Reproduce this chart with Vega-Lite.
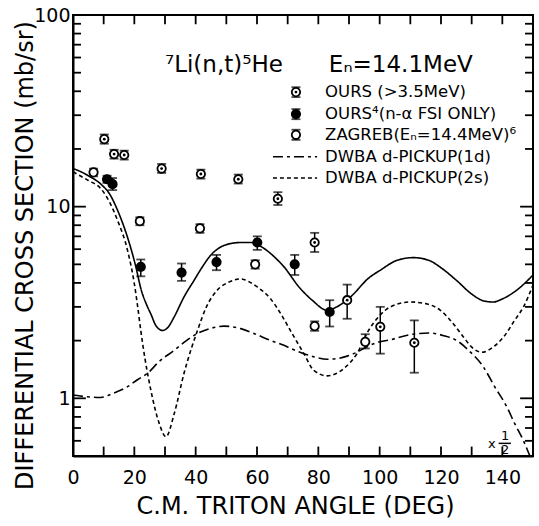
{
  "$schema": "https://vega.github.io/schema/vega-lite/v6.json",
  "width": 460,
  "height": 441,
  "autosize": {"type": "none"},
  "padding": {"left": 73, "top": 15, "right": 6, "bottom": 70},
  "background": "white",
  "config": {
    "font": "DejaVu Sans",
    "view": {"stroke": "black", "strokeWidth": 2},
    "text": {"color": "black"}
  },
  "datasets": {
    "curves": [
      {"curve": "total", "angle": 0, "xs": 15.8}, {"curve": "total", "angle": 2.6, "xs": 15.2}, {"curve": "total", "angle": 5, "xs": 14.5},
      {"curve": "total", "angle": 9.1, "xs": 13.1}, {"curve": "total", "angle": 12, "xs": 11.6}, {"curve": "total", "angle": 14.5, "xs": 9.6},
      {"curve": "total", "angle": 17.8, "xs": 6.9}, {"curve": "total", "angle": 20.5, "xs": 4.85}, {"curve": "total", "angle": 22.1, "xs": 3.75},
      {"curve": "total", "angle": 24.3, "xs": 3.0}, {"curve": "total", "angle": 25.4, "xs": 2.75}, {"curve": "total", "angle": 27, "xs": 2.4},
      {"curve": "total", "angle": 29.2, "xs": 2.26}, {"curve": "total", "angle": 31, "xs": 2.35}, {"curve": "total", "angle": 33, "xs": 2.66},
      {"curve": "total", "angle": 36.2, "xs": 3.38}, {"curve": "total", "angle": 39.5, "xs": 4.13}, {"curve": "total", "angle": 42, "xs": 4.8},
      {"curve": "total", "angle": 45, "xs": 5.6}, {"curve": "total", "angle": 48.2, "xs": 6.16}, {"curve": "total", "angle": 51, "xs": 6.4},
      {"curve": "total", "angle": 54.7, "xs": 6.5}, {"curve": "total", "angle": 58, "xs": 6.5}, {"curve": "total", "angle": 62.3, "xs": 6.05},
      {"curve": "total", "angle": 65.5, "xs": 5.5}, {"curve": "total", "angle": 68.8, "xs": 4.85}, {"curve": "total", "angle": 73.7, "xs": 3.81},
      {"curve": "total", "angle": 78, "xs": 3.25}, {"curve": "total", "angle": 82.9, "xs": 2.88}, {"curve": "total", "angle": 86, "xs": 3.0},
      {"curve": "total", "angle": 90.5, "xs": 3.38}, {"curve": "total", "angle": 96.5, "xs": 4.25}, {"curve": "total", "angle": 100.2, "xs": 4.66},
      {"curve": "total", "angle": 105.7, "xs": 5.25}, {"curve": "total", "angle": 111, "xs": 5.42}, {"curve": "total", "angle": 116, "xs": 5.25},
      {"curve": "total", "angle": 120, "xs": 4.8}, {"curve": "total", "angle": 125, "xs": 4.13}, {"curve": "total", "angle": 130, "xs": 3.5},
      {"curve": "total", "angle": 134, "xs": 3.22}, {"curve": "total", "angle": 137, "xs": 3.18}, {"curve": "total", "angle": 140, "xs": 3.3},
      {"curve": "total", "angle": 145, "xs": 3.7}, {"curve": "total", "angle": 150, "xs": 4.4},

      {"curve": "2s", "angle": 0, "xs": 15.2}, {"curve": "2s", "angle": 2.6, "xs": 14.4}, {"curve": "2s", "angle": 5, "xs": 13.7},
      {"curve": "2s", "angle": 9.1, "xs": 12.4}, {"curve": "2s", "angle": 12, "xs": 10.5}, {"curve": "2s", "angle": 14.5, "xs": 8.5},
      {"curve": "2s", "angle": 17.8, "xs": 5.9}, {"curve": "2s", "angle": 20, "xs": 3.96}, {"curve": "2s", "angle": 21.1, "xs": 3.0},
      {"curve": "2s", "angle": 22.1, "xs": 2.26}, {"curve": "2s", "angle": 23.5, "xs": 1.6}, {"curve": "2s", "angle": 25.4, "xs": 1.1},
      {"curve": "2s", "angle": 28.1, "xs": 0.74}, {"curve": "2s", "angle": 30.3, "xs": 0.63}, {"curve": "2s", "angle": 33, "xs": 0.83},
      {"curve": "2s", "angle": 36.2, "xs": 1.35}, {"curve": "2s", "angle": 38.5, "xs": 1.8}, {"curve": "2s", "angle": 40.6, "xs": 2.26},
      {"curve": "2s", "angle": 43.5, "xs": 3.0}, {"curve": "2s", "angle": 47, "xs": 3.66}, {"curve": "2s", "angle": 51, "xs": 4.05},
      {"curve": "2s", "angle": 54.7, "xs": 4.2}, {"curve": "2s", "angle": 57.5, "xs": 4.05}, {"curve": "2s", "angle": 60.1, "xs": 3.81},
      {"curve": "2s", "angle": 64.4, "xs": 3.31}, {"curve": "2s", "angle": 67.7, "xs": 2.77}, {"curve": "2s", "angle": 71.5, "xs": 2.17},
      {"curve": "2s", "angle": 75.3, "xs": 1.71}, {"curve": "2s", "angle": 78.5, "xs": 1.4}, {"curve": "2s", "angle": 82.9, "xs": 1.31},
      {"curve": "2s", "angle": 88.3, "xs": 1.43}, {"curve": "2s", "angle": 92.6, "xs": 1.71}, {"curve": "2s", "angle": 96.4, "xs": 2.26},
      {"curve": "2s", "angle": 100, "xs": 2.7}, {"curve": "2s", "angle": 103.5, "xs": 3.0}, {"curve": "2s", "angle": 110, "xs": 3.18},
      {"curve": "2s", "angle": 115, "xs": 3.12}, {"curve": "2s", "angle": 119.8, "xs": 2.88}, {"curve": "2s", "angle": 124, "xs": 2.45},
      {"curve": "2s", "angle": 127.3, "xs": 2.09}, {"curve": "2s", "angle": 130, "xs": 1.85}, {"curve": "2s", "angle": 133.3, "xs": 1.74},
      {"curve": "2s", "angle": 137, "xs": 1.85}, {"curve": "2s", "angle": 140.4, "xs": 2.09}, {"curve": "2s", "angle": 144, "xs": 2.55},
      {"curve": "2s", "angle": 146.9, "xs": 3.0}, {"curve": "2s", "angle": 150, "xs": 3.9},

      {"curve": "1d", "angle": 0, "xs": 1.04}, {"curve": "1d", "angle": 4, "xs": 1.02}, {"curve": "1d", "angle": 9, "xs": 1.01},
      {"curve": "1d", "angle": 13, "xs": 1.06}, {"curve": "1d", "angle": 17.8, "xs": 1.15}, {"curve": "1d", "angle": 21, "xs": 1.25},
      {"curve": "1d", "angle": 24.3, "xs": 1.35}, {"curve": "1d", "angle": 28, "xs": 1.55}, {"curve": "1d", "angle": 33, "xs": 1.78},
      {"curve": "1d", "angle": 37, "xs": 2.0}, {"curve": "1d", "angle": 40.6, "xs": 2.18}, {"curve": "1d", "angle": 45, "xs": 2.32},
      {"curve": "1d", "angle": 49.2, "xs": 2.38}, {"curve": "1d", "angle": 54.7, "xs": 2.31}, {"curve": "1d", "angle": 59, "xs": 2.18},
      {"curve": "1d", "angle": 64.5, "xs": 2.0}, {"curve": "1d", "angle": 68.8, "xs": 1.89}, {"curve": "1d", "angle": 71, "xs": 1.82},
      {"curve": "1d", "angle": 75.3, "xs": 1.71}, {"curve": "1d", "angle": 79, "xs": 1.64}, {"curve": "1d", "angle": 82.9, "xs": 1.6},
      {"curve": "1d", "angle": 86, "xs": 1.61}, {"curve": "1d", "angle": 89.4, "xs": 1.66}, {"curve": "1d", "angle": 92.6, "xs": 1.74},
      {"curve": "1d", "angle": 95.9, "xs": 1.86}, {"curve": "1d", "angle": 99, "xs": 1.95}, {"curve": "1d", "angle": 103.5, "xs": 2.02},
      {"curve": "1d", "angle": 110, "xs": 2.15}, {"curve": "1d", "angle": 116.5, "xs": 2.19}, {"curve": "1d", "angle": 121, "xs": 2.12},
      {"curve": "1d", "angle": 125.2, "xs": 2.0}, {"curve": "1d", "angle": 129, "xs": 1.78}, {"curve": "1d", "angle": 133.8, "xs": 1.46},
      {"curve": "1d", "angle": 137.5, "xs": 1.15}, {"curve": "1d", "angle": 141.5, "xs": 0.9}, {"curve": "1d", "angle": 144, "xs": 0.74},
      {"curve": "1d", "angle": 146.9, "xs": 0.6}, {"curve": "1d", "angle": 149, "xs": 0.5}, {"curve": "1d", "angle": 150, "xs": 0.46}
    ],
    "legline": [
      {"curve": "1d", "angle": 65.2, "xs": 18.2}, {"curve": "1d", "angle": 79.6, "xs": 18.2},
      {"curve": "2s", "angle": 65.2, "xs": 14.1}, {"curve": "2s", "angle": 79.6, "xs": 14.1}
    ],
    "points": [
      {"series": "OURS", "angle": 10.2, "xs": 22.5, "lo": 21.3, "hi": 23.8},
      {"series": "OURS", "angle": 13.4, "xs": 18.8, "lo": 17.8, "hi": 19.8},
      {"series": "OURS", "angle": 16.7, "xs": 18.6, "lo": 17.6, "hi": 19.6},
      {"series": "OURS", "angle": 28.9, "xs": 15.8, "lo": 15.0, "hi": 16.7},
      {"series": "OURS", "angle": 41.7, "xs": 14.8, "lo": 14.0, "hi": 15.6},
      {"series": "OURS", "angle": 53.9, "xs": 13.9, "lo": 13.2, "hi": 14.7},
      {"series": "OURS", "angle": 66.8, "xs": 11.0, "lo": 10.2, "hi": 11.9},
      {"series": "OURS", "angle": 78.8, "xs": 6.5, "lo": 5.8, "hi": 7.3},
      {"series": "OURS", "angle": 89.4, "xs": 3.25, "lo": 2.6, "hi": 3.92},
      {"series": "OURS", "angle": 100.2, "xs": 2.36, "lo": 1.71, "hi": 3.0},
      {"series": "OURS", "angle": 111.3, "xs": 1.95, "lo": 1.36, "hi": 2.55},
      {"series": "FSI", "angle": 11.1, "xs": 13.9, "lo": 13.3, "hi": 14.5},
      {"series": "FSI", "angle": 12.9, "xs": 13.1, "lo": 12.2, "hi": 14.1},
      {"series": "FSI", "angle": 22.1, "xs": 4.85, "lo": 4.33, "hi": 5.3},
      {"series": "FSI", "angle": 35.4, "xs": 4.53, "lo": 4.1, "hi": 5.05},
      {"series": "FSI", "angle": 46.8, "xs": 5.14, "lo": 4.66, "hi": 5.6},
      {"series": "FSI", "angle": 60.1, "xs": 6.5, "lo": 5.95, "hi": 7.0},
      {"series": "FSI", "angle": 72.3, "xs": 5.0, "lo": 4.4, "hi": 5.6},
      {"series": "FSI", "angle": 83.7, "xs": 2.82, "lo": 2.37, "hi": 3.25},
      {"series": "ZAGREB", "angle": 6.7, "xs": 15.1, "lo": 14.4, "hi": 15.8},
      {"series": "ZAGREB", "angle": 21.8, "xs": 8.4, "lo": 8.0, "hi": 8.8},
      {"series": "ZAGREB", "angle": 41.4, "xs": 7.7, "lo": 7.3, "hi": 8.1},
      {"series": "ZAGREB", "angle": 59.4, "xs": 5.0, "lo": 4.75, "hi": 5.25},
      {"series": "ZAGREB", "angle": 78.8, "xs": 2.38, "lo": 2.25, "hi": 2.52},
      {"series": "ZAGREB", "angle": 95.3, "xs": 1.97, "lo": 1.82, "hi": 2.16}
    ],
    "legsym": [
      {"series": "OURS", "angle": 72.7, "xs": 39.6, "lo": 37.3, "hi": 42.0},
      {"series": "FSI", "angle": 72.7, "xs": 30.4, "lo": 28.6, "hi": 32.3},
      {"series": "ZAGREB", "angle": 72.7, "xs": 23.7, "lo": 22.3, "hi": 25.2}
    ],
    "legtext": [
      {"angle": 82.2, "xs": 39.6, "text": "OURS (>3.5MeV)"},
      {"angle": 82.2, "xs": 30.4, "text": "OURS⁴(n-α FSI ONLY)"},
      {"angle": 82.2, "xs": 23.7, "text": "ZAGREB(Eₙ=14.4MeV)⁶"},
      {"angle": 82.2, "xs": 18.2, "text": "DWBA  d-PICKUP(1d)"},
      {"angle": 82.2, "xs": 14.1, "text": "DWBA  d-PICKUP(2s)"}
    ],
    "heads": [
      {"angle": 49.2, "xs": 54.8, "text": "⁷Li(n,t)⁵He"},
      {"angle": 106.9, "xs": 54.8, "text": "Eₙ=14.1MeV"}
    ],
    "scale_note": [
      {"angle": 136.6, "xs": 0.58, "text": "x"},
      {"angle": 140.9, "xs": 0.632, "text": "1"},
      {"angle": 140.9, "xs": 0.535, "text": "2"}
    ],
    "frac": [{"angle": 138.8, "angle2": 142.8, "xs": 0.582}],
    "xticks": [
      {"angle": 10}, {"angle": 20}, {"angle": 30}, {"angle": 40}, {"angle": 50}, {"angle": 60}, {"angle": 70},
      {"angle": 80}, {"angle": 90}, {"angle": 100}, {"angle": 110}, {"angle": 120}, {"angle": 130}, {"angle": 140}
    ],
    "yticks_major": [{"xs": 1}, {"xs": 10}],
    "yticks_minor": [
      {"xs": 0.6}, {"xs": 0.7}, {"xs": 0.8}, {"xs": 0.9},
      {"xs": 2}, {"xs": 3}, {"xs": 4}, {"xs": 5}, {"xs": 6}, {"xs": 7}, {"xs": 8}, {"xs": 9},
      {"xs": 20}, {"xs": 30}, {"xs": 40}, {"xs": 50}, {"xs": 60}, {"xs": 70}, {"xs": 80}, {"xs": 90}
    ]
  },
  "layer": [
    {
      "data": {"name": "curves"},
      "mark": {"type": "line", "interpolate": "monotone", "clip": true, "strokeWidth": 1.6, "color": "black"},
      "encoding": {
        "x": {"field": "angle", "type": "quantitative",
          "scale": {"domain": [0, 150], "nice": false, "zero": false},
          "axis": {
            "orient": "bottom",
            "values": [0, 20, 40, 60, 80, 100, 120, 140],
            "labelFlush": false, "grid": false, "ticks": false,
            "domainColor": "black", "domainWidth": 2,
            "labelFontSize": 19, "labelColor": "black", "labelPadding": 12,
            "title": "C.M. TRITON ANGLE (DEG)", "titleFontSize": 24, "titleFontWeight": "normal",
            "titleColor": "black", "titleX": 222, "titleY": 50, "titleBaseline": "middle", "titleAlign": "center"
          }},
        "y": {"field": "xs", "type": "quantitative",
          "scale": {"type": "log", "domain": [0.5, 100], "nice": false},
          "axis": {
            "orient": "left",
            "values": [1, 10, 100],
            "format": "~g",
            "grid": false, "labelFlush": false, "ticks": false,
            "domainColor": "black", "domainWidth": 2,
            "labelFontSize": 19, "labelColor": "black", "labelPadding": 3,
            "title": "DIFFERENTIAL CROSS SECTION (mb/sr)", "titleFontSize": 24, "titleFontWeight": "normal",
            "titleColor": "black", "titleX": -48, "titleY": 240, "titleAngle": -90, "titleBaseline": "middle", "titleAlign": "center"
          }},
        "strokeDash": {"field": "curve", "type": "nominal",
          "scale": {"domain": ["total", "1d", "2s"], "range": [[1, 0], [10, 4, 3, 4], [4, 3]]},
          "legend": null}
      }
    },
    {
      "data": {"name": "legline"},
      "mark": {"type": "line", "strokeWidth": 1.6, "color": "black"},
      "encoding": {
        "x": {"field": "angle", "type": "quantitative"},
        "y": {"field": "xs", "type": "quantitative"},
        "strokeDash": {"field": "curve", "type": "nominal", "legend": null}
      }
    },
    {
      "data": {"name": "xticks"},
      "layer": [
        {"mark": {"type": "rule", "color": "black", "strokeWidth": 1.8},
         "encoding": {"x": {"field": "angle", "type": "quantitative"},
           "y": {"datum": 0.5, "type": "quantitative"}, "y2": {"datum": 0.56}}},
        {"mark": {"type": "rule", "color": "black", "strokeWidth": 1.8},
         "encoding": {"x": {"field": "angle", "type": "quantitative"},
           "y": {"datum": 100, "type": "quantitative"}, "y2": {"datum": 89.5}}}
      ]
    },
    {
      "data": {"name": "yticks_major"},
      "layer": [
        {"mark": {"type": "rule", "color": "black", "strokeWidth": 1.8},
         "encoding": {"y": {"field": "xs", "type": "quantitative"},
           "x": {"datum": 0, "type": "quantitative"}, "x2": {"datum": 4.2}}},
        {"mark": {"type": "rule", "color": "black", "strokeWidth": 1.8},
         "encoding": {"y": {"field": "xs", "type": "quantitative"},
           "x": {"datum": 150, "type": "quantitative"}, "x2": {"datum": 145.8}}}
      ]
    },
    {
      "data": {"name": "yticks_minor"},
      "layer": [
        {"mark": {"type": "rule", "color": "black", "strokeWidth": 1.8},
         "encoding": {"y": {"field": "xs", "type": "quantitative"},
           "x": {"datum": 0, "type": "quantitative"}, "x2": {"datum": 2.6}}},
        {"mark": {"type": "rule", "color": "black", "strokeWidth": 1.8},
         "encoding": {"y": {"field": "xs", "type": "quantitative"},
           "x": {"datum": 150, "type": "quantitative"}, "x2": {"datum": 147.4}}}
      ]
    },
    {
      "data": {"name": "frac"},
      "mark": {"type": "rule", "color": "black", "strokeWidth": 1.5},
      "encoding": {
        "x": {"field": "angle", "type": "quantitative"},
        "x2": {"field": "angle2"},
        "y": {"field": "xs", "type": "quantitative"}
      }
    },
    {
      "data": {"name": "points"},
      "layer": [
        {"mark": {"type": "rule", "color": "black", "strokeWidth": 1.5},
         "encoding": {"x": {"field": "angle", "type": "quantitative"},
           "y": {"field": "lo", "type": "quantitative"}, "y2": {"field": "hi"}}},
        {"mark": {"type": "tick", "orient": "horizontal", "color": "black", "size": 9, "thickness": 1.8},
         "encoding": {"x": {"field": "angle", "type": "quantitative"},
           "y": {"field": "lo", "type": "quantitative"}}},
        {"mark": {"type": "tick", "orient": "horizontal", "color": "black", "size": 9, "thickness": 1.8},
         "encoding": {"x": {"field": "angle", "type": "quantitative"},
           "y": {"field": "hi", "type": "quantitative"}}},
        {"mark": {"type": "point", "shape": "circle", "filled": true, "stroke": "black", "strokeWidth": 1.8, "size": 70, "opacity": 1},
         "encoding": {"x": {"field": "angle", "type": "quantitative"},
           "y": {"field": "xs", "type": "quantitative"},
           "fill": {"field": "series", "type": "nominal",
             "scale": {"domain": ["OURS", "FSI", "ZAGREB"], "range": ["white", "black", "white"]}, "legend": null}}},
        {"transform": [{"filter": "datum.series == 'OURS'"}],
         "mark": {"type": "point", "shape": "circle", "filled": true, "color": "black", "size": 8, "opacity": 1},
         "encoding": {"x": {"field": "angle", "type": "quantitative"},
           "y": {"field": "xs", "type": "quantitative"}}}
      ]
    },
    {
      "data": {"name": "legsym"},
      "layer": [
        {"mark": {"type": "rule", "color": "black", "strokeWidth": 1.5},
         "encoding": {"x": {"field": "angle", "type": "quantitative"},
           "y": {"field": "lo", "type": "quantitative"}, "y2": {"field": "hi"}}},
        {"mark": {"type": "tick", "orient": "horizontal", "color": "black", "size": 9, "thickness": 1.8},
         "encoding": {"x": {"field": "angle", "type": "quantitative"},
           "y": {"field": "lo", "type": "quantitative"}}},
        {"mark": {"type": "tick", "orient": "horizontal", "color": "black", "size": 9, "thickness": 1.8},
         "encoding": {"x": {"field": "angle", "type": "quantitative"},
           "y": {"field": "hi", "type": "quantitative"}}},
        {"mark": {"type": "point", "shape": "circle", "filled": true, "stroke": "black", "strokeWidth": 1.8, "size": 70, "opacity": 1},
         "encoding": {"x": {"field": "angle", "type": "quantitative"},
           "y": {"field": "xs", "type": "quantitative"},
           "fill": {"field": "series", "type": "nominal", "legend": null}}},
        {"transform": [{"filter": "datum.series == 'OURS'"}],
         "mark": {"type": "point", "shape": "circle", "filled": true, "color": "black", "size": 8, "opacity": 1},
         "encoding": {"x": {"field": "angle", "type": "quantitative"},
           "y": {"field": "xs", "type": "quantitative"}}}
      ]
    },
    {
      "data": {"name": "legtext"},
      "mark": {"type": "text", "align": "left", "baseline": "middle", "fontSize": 16.5, "color": "black"},
      "encoding": {"x": {"field": "angle", "type": "quantitative"},
        "y": {"field": "xs", "type": "quantitative"},
        "text": {"field": "text"}}
    },
    {
      "data": {"name": "heads"},
      "mark": {"type": "text", "align": "center", "baseline": "middle", "fontSize": 23, "color": "black"},
      "encoding": {"x": {"field": "angle", "type": "quantitative"},
        "y": {"field": "xs", "type": "quantitative"},
        "text": {"field": "text"}}
    },
    {
      "data": {"name": "scale_note"},
      "mark": {"type": "text", "align": "center", "baseline": "middle", "fontSize": 13, "color": "black"},
      "encoding": {"x": {"field": "angle", "type": "quantitative"},
        "y": {"field": "xs", "type": "quantitative"},
        "text": {"field": "text"}}
    }
  ]
}
